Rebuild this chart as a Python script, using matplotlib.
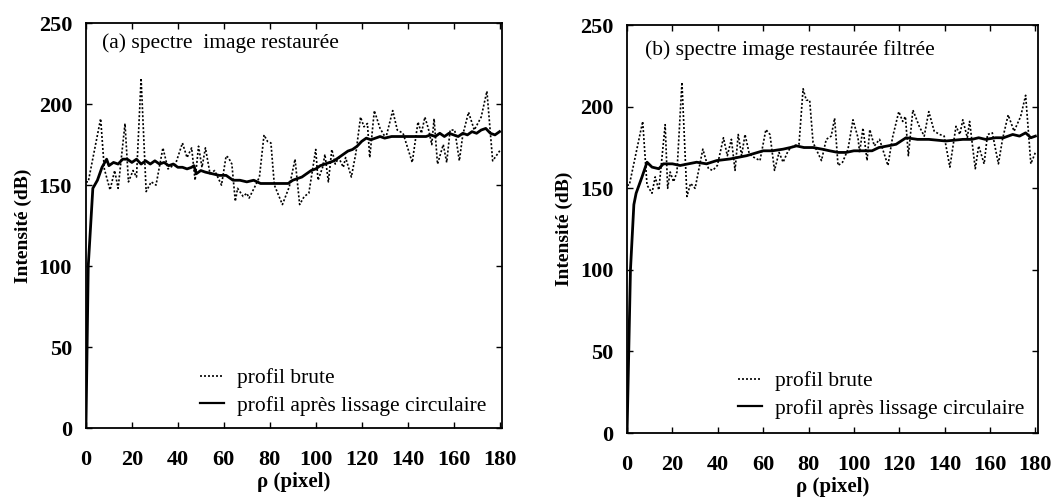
import matplotlib
matplotlib.use("Agg")
import matplotlib.pyplot as plt
from matplotlib.lines import Line2D

plt.rcParams['font.family'] = ['Liberation Serif', 'DejaVu Serif']

# ---------------- data ----------------
left_raw_x = [0, 1, 6.4, 8, 10.5, 12.5, 14, 17, 18.5, 20.5, 22, 24, 26.2, 28.4, 30.5,
              33.5, 35.7, 39, 42, 44, 46, 47.5, 49, 50.5, 52, 54, 56, 59, 61, 62,
              63.5, 65, 66, 68.4, 70, 71, 73.5, 75.5, 77.5, 79, 80.5, 82, 85.5, 88.5, 91,
              93, 95, 97, 100, 101, 103, 104, 105.5, 107, 108.5, 110, 112, 113, 115.5, 117.5,
              119.5, 121, 122.5, 123.5, 125.5, 128, 130.5, 133.5, 135.5, 138, 142, 144.5, 146, 147.5, 149,
              150.5, 151.5, 153, 155.5, 157, 158.5, 160.5, 162.5, 164, 166.5, 169, 172, 174.5, 177, 179,
              180.5]
left_raw_y = [152, 152, 191, 160, 147, 159, 148, 188, 152, 159, 155, 216, 146, 152, 150,
              173, 160, 163, 176, 167, 173, 153, 174, 161, 173, 157, 159, 150, 168, 167,
              163, 140, 148, 143, 145, 142, 149, 155, 181, 177, 176, 150, 138, 149, 166,
              138, 143, 145, 172, 153, 161, 169, 152, 172, 163, 167, 161, 167, 155, 170,
              192, 186, 188, 167, 196, 185, 179, 196, 184, 182, 164, 189, 182, 192, 185,
              175, 191, 163, 175, 164, 184, 184, 165, 181, 195, 184, 192, 208, 165, 169,
              172]

left_smooth_x = [0, 1, 3, 5, 7, 9, 10, 12, 14, 16, 18, 20, 22, 24, 26, 28, 30, 32, 34, 36,
                 38, 40, 42, 44, 46, 47, 48, 50, 52, 55, 58, 61, 64, 67, 70, 73, 76, 80, 84, 88,
                 90, 92, 94, 96, 98, 100, 102, 104, 106, 108, 110, 112, 114, 116, 118,
                 120, 122, 124, 126, 128, 130, 133, 136, 140, 144, 148, 150, 152, 154, 156,
                 158, 160, 162, 164, 166, 168, 170, 172, 174, 176, 178, 180]
left_smooth_y = [0, 100, 148, 153, 161, 166, 162, 164, 163, 166, 166, 164, 166, 163, 165,
                 163, 165, 163, 164, 162, 163, 161, 161, 160, 161, 162, 157, 159, 158, 157,
                 156, 156, 153, 153, 152, 153, 151, 151, 151, 151, 153, 154, 155, 157, 159,
                 160, 162, 163, 164, 165, 167, 169, 171, 172, 174, 177, 179, 178, 179, 180,
                 179, 180, 180, 180, 180, 180, 181, 180, 182, 180, 182, 181, 180, 182, 181,
                 183, 182, 184, 185, 182, 181, 183]

right_raw_x = [0, 1, 6.9, 8.8, 11, 12.4, 14, 16.8, 17.9, 19, 20.5, 22, 24.2, 26.4, 28,
               30, 33.4, 35.9, 37.8, 39.8, 42.5, 44.2, 46, 47.6, 49, 50.5, 52, 53.9, 55.9, 58.6,
               61.2, 63, 65, 67, 68.8, 71, 73.2, 75.8, 77.6, 79, 80.5, 82, 85.7, 87.8, 90,
               91.5, 93, 95, 97.4, 99.6, 101.8, 102.5, 104, 105.8, 107, 109, 111.3, 115, 117, 119.8,
               121.5, 122.7, 124, 126, 128.8, 131, 133, 135.4, 137.8, 139.8, 142.3, 145, 146.7, 148, 150,
               151, 153.5, 155, 157.4, 158.9, 161, 163.7, 165.5, 168, 170.6, 173.5, 175.7, 178, 180]
right_raw_y = [152, 152, 191, 152, 147, 157, 149, 189, 150, 160, 154, 160, 215, 145, 153,
               150, 174, 162, 161, 164, 181, 170, 180, 161, 183, 170, 183, 171, 169, 167,
               186, 183, 161, 172, 166, 173, 176, 177, 211, 204, 204, 178, 167, 180, 182,
               193, 164, 166, 174, 192, 181, 172, 187, 167, 186, 176, 180, 164, 181, 197,
               191, 194, 170, 198, 188, 182, 197, 185, 183, 182, 163, 188, 183, 192, 181,
               191, 162, 176, 165, 183, 184, 165, 180, 195, 185, 194, 207, 165, 172]

right_smooth_x = [0, 1.5, 3, 4, 6.6, 8.8, 11, 14, 16, 20, 23.4, 27, 30.7, 35, 39.5,
                  45.4, 52.7, 60, 64, 68.8, 72, 74.7, 78, 82, 86, 89.3, 93, 96.6, 100, 104,
                  108, 111, 115, 118.6, 123, 128, 133, 140.5, 148, 152, 155, 158, 162.5, 166, 170,
                  173, 175.7, 178, 180]
right_smooth_y = [0, 100, 140, 147, 157, 166, 163, 162, 165, 165, 164, 165, 166, 165, 167,
                  168, 170, 173, 173, 174, 175, 176, 175, 175, 174, 173, 172, 172, 173, 173,
                  173, 175, 176, 177, 181, 180, 180, 179, 180, 180, 181, 180, 181, 181, 183,
                  182, 184, 181, 182]

titles = ["(a) spectre  image restaurée", "(b) spectre image restaurée filtrée"]
legend_labels = ["profil brute", "profil après lissage circulaire"]
x_ticks = [0, 20, 40, 60, 80, 100, 120, 140, 160, 180]
y_ticks = [0, 50, 100, 150, 200, 250]
xlabel = "ρ (pixel)"
ylabel = "Intensité (dB)"

# ---------------- figure ----------------
fig = plt.figure(figsize=(10.61, 5.03), dpi=100)
axes_pos = [[0.081, 0.149, 0.392, 0.805], [0.591, 0.139, 0.387, 0.811]]
legend_anchor = [(0.275, 0.03), (0.27, 0.035)]
title_pos = [(0.038, 0.95), (0.044, 0.94)]

panels = [(left_raw_x, left_raw_y, left_smooth_x, left_smooth_y),
          (right_raw_x, right_raw_y, right_smooth_x, right_smooth_y)]

for i, (rx, ry, sx, sy) in enumerate(panels):
    ax = fig.add_axes(axes_pos[i])
    ax.plot(rx, ry, color='black', linestyle=(0, (1.2, 1.2)), linewidth=1.2)
    ax.plot(sx, sy, color='black', linestyle='-', linewidth=2.0)
    ax.set_xlim(0, 181)
    ax.set_ylim(0, 250)
    ax.set_xticks(x_ticks)
    ax.set_yticks(y_ticks)
    ax.tick_params(direction='in', top=True, right=True, length=4, width=1,
                   labelsize=16)
    ax.tick_params(axis='x', pad=16)
    ax.tick_params(axis='y', pad=10)
    for lab in ax.get_xticklabels() + ax.get_yticklabels():
        lab.set_fontweight('bold')
    for sp in ax.spines.values():
        sp.set_linewidth(1.3)
    ax.set_xlabel(xlabel, fontsize=15, fontweight='bold', labelpad=1)
    ax.set_ylabel(ylabel, fontsize=14, fontweight='bold', labelpad=5)
    ax.text(title_pos[i][0], title_pos[i][1], titles[i], transform=ax.transAxes,
            fontsize=15.5, va='center', ha='left')
    handles = [Line2D([], [], color='black', linestyle=(0, (1.2, 1.2)), linewidth=1.2),
               Line2D([], [], color='black', linestyle='-', linewidth=1.6)]
    ax.legend(handles, legend_labels, loc='lower left', bbox_to_anchor=legend_anchor[i],
              frameon=False, fontsize=15.5, handlelength=1.1, handletextpad=0.6,
              labelspacing=0.35, borderpad=0, borderaxespad=0)

fig.savefig("out.png", dpi=100)
